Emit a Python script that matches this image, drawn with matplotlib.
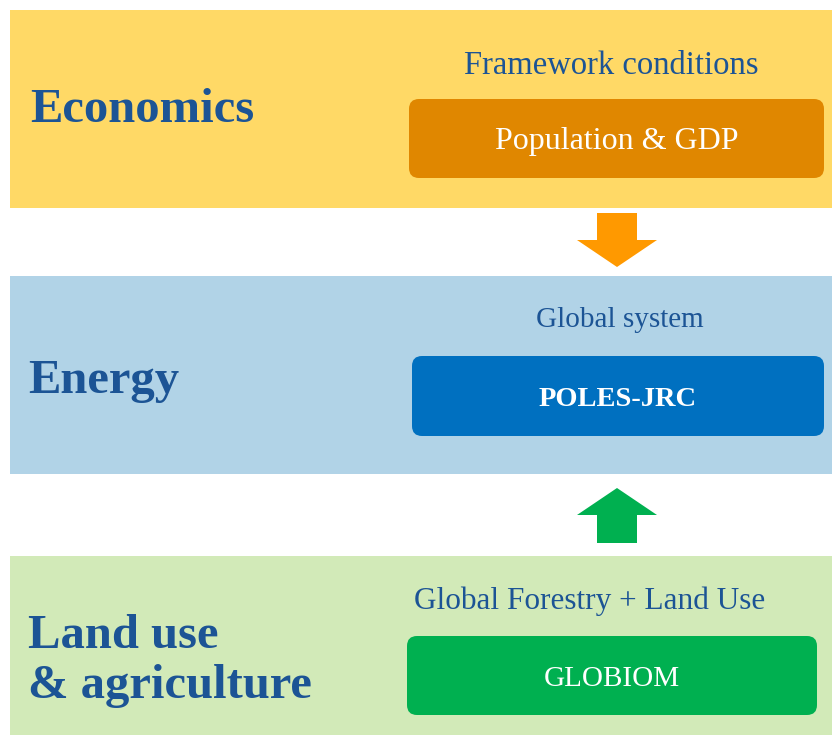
import matplotlib.pyplot as plt
from matplotlib.patches import Rectangle, FancyBboxPatch, FancyArrow

# Diagram content
layers = ["Economics", "Energy", "Land use\n& agriculture"]
captions = ["Framework conditions", "Global system", "Global Forestry + Land Use"]
models = ["Population & GDP", "POLES-JRC", "GLOBIOM"]
model_bold = [False, True, False]

band_colors = ["#FFD966", "#B1D3E7", "#D2EAB8"]
box_colors = ["#E08700", "#0070C0", "#00B050"]
text_color = "#1C5495"
font = "Liberation Serif"

# layout in pixel coords (x0, y0, x1, y1)
bands = [(10, 10, 832, 208), (10, 276, 832, 474), (10, 556, 832, 735)]
boxes = [(409, 99, 824, 178), (412, 356, 824, 436), (407, 636, 817, 715)]
cap_pos = [(611, 66), (620, 320), (590, 601)]
cap_size = [23.5, 21, 22.5]
model_size = [23, 20.5, 21]
layer_pos = [(30, 110), (28, 381), (28, 661)]

fig = plt.figure(figsize=(8.32, 7.35), dpi=100)
ax = fig.add_axes([0, 0, 1, 1])
ax.set_xlim(0, 832)
ax.set_ylim(735, 0)
ax.axis("off")

for i in range(3):
    x0, y0, x1, y1 = bands[i]
    ax.add_patch(Rectangle((x0, y0), x1 - x0, y1 - y0, color=band_colors[i], lw=0))
    bx0, by0, bx1, by1 = boxes[i]
    ax.add_patch(FancyBboxPatch((bx0 + 10, by0 + 10), bx1 - bx0 - 20, by1 - by0 - 20,
                                boxstyle="round,pad=10", fc=box_colors[i], ec="none"))
    ax.text(layer_pos[i][0], layer_pos[i][1], layers[i], color=text_color,
            fontsize=35, fontweight="bold", family=font, ha="left", va="center",
            linespacing=1.2)
    ax.text(cap_pos[i][0], cap_pos[i][1], captions[i], color=text_color,
            fontsize=cap_size[i], family=font, ha="center", va="center")
    ax.text((bx0 + bx1) / 2, (by0 + by1) / 2 + 3, models[i], color="white",
            fontsize=model_size[i], family=font, ha="center", va="center",
            fontweight="bold" if model_bold[i] else "normal")

# arrows between layers
ax.add_patch(FancyArrow(617, 213, 0, 54, width=40, head_width=80, head_length=27,
                        length_includes_head=True, color="#FF9900", lw=0))
ax.add_patch(FancyArrow(617, 543, 0, -55, width=40, head_width=80, head_length=27,
                        length_includes_head=True, color="#00B050", lw=0))

fig.savefig("out.png", dpi=100)
